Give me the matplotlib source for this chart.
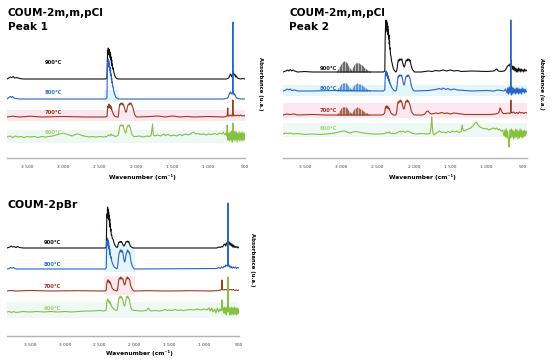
import numpy as np
import matplotlib.pyplot as plt

# ---------------- data ----------------
# each trace: (wavenumber cm-1, absorbance a.u. above its own baseline)

# COUM-2m,m,pCl  Peak 1
p1_900 = [(3775,0),(3750,1),(3730,2),(3710,1.5),(3690,2.5),(3670,1),(3640,1.5),(3600,0.5),(3550,0),(2600,0),
          (2420,0),(2400,1),(2394,20),(2390,28),(2386,24),(2382,31),(2378,26),(2374,30),(2370,25),(2366,29),
          (2362,23),(2358,27),(2354,21),(2350,25),(2346,19),(2342,22),(2338,16),(2334,19),(2330,13),(2326,15),
          (2320,10),(2314,11),(2306,7),(2298,5),(2290,3),(2280,1.5),(2265,0.5),(2240,0),(1500,0),(760,0),
          (740,0.5),(725,1),(712,3),(700,5),(690,4),(680,2),(672,3),(668,4),(667,8),(666,4),(660,6),(650,4),
          (640,5),(630,2),(620,3),(605,1),(590,0.5),(560,0),(530,0.5),(500,0)]
p1_800 = [(3775,0),(3750,1.5),(3730,2.5),(3715,1.5),(3700,2.5),(3680,1),(3650,0.5),(3600,0),(2420,0),(2400,1),
          (2394,28),(2390,36),(2386,32),(2382,40),(2378,34),(2374,38),(2370,32),(2366,35),(2362,29),(2358,32),
          (2354,26),(2350,29),(2346,23),(2342,25),(2338,19),(2334,21),(2330,16),(2326,17),(2320,12),(2314,12),
          (2306,8),(2298,6),(2290,4),(2280,2),(2265,1),(2240,0),(800,0),(760,0.5),(740,1),(725,3),(712,6),
          (700,7),(690,5),(680,6),(672,5),(668,6),(667,77),(666,6),(660,7),(650,4),(640,5),(630,3),(615,1),
          (600,0.5),(550,0),(500,0)]
p1_700 = [(3775,0),(3700,0.8),(3600,0),(3450,0.8),(3300,0),(3000,0.5),(2700,0),(2420,0),(2398,1),(2392,8),
          (2386,11),(2380,9),(2374,13),(2368,10),(2362,12),(2356,9),(2350,11),(2344,8),(2338,10),(2330,6),
          (2322,5),(2312,3),(2300,1.5),(2285,0.5),(2260,0),(2245,0),(2238,4),(2230,10),(2222,13),(2214,12),
          (2206,14),(2198,13),(2190,14),(2182,12),(2174,13),(2166,11),(2158,9),(2150,7),(2142,5),(2134,5),
          (2126,7),(2118,10),(2110,12),(2102,13),(2094,12),(2086,14),(2078,13),(2070,14),(2062,12),(2054,12),
          (2046,10),(2038,8),(2028,5),(2015,2),(2000,0.5),(1985,0),(1800,0.5),(1700,1),(1600,0),(1500,1),
          (1400,0),(1300,0.5),(1200,0),(1000,0.5),(800,0),(760,0.5),(745,1),(738,9),(732,1),(720,1),(700,2),
          (690,1),(680,2),(670,1),(668,2),(667,17),(666,2),(655,1),(640,2),(620,1),(600,2),(580,1),(560,2),
          (540,1),(520,1.5),(500,1)]
p1_600 = [(3775,0),(3740,1),(3700,-0.5),(3660,1),(3620,0),(3580,0.5),(3540,-0.5),(3500,0.5),(3450,0),(3400,0.5),
          (3350,-0.5),(3300,0.5),(3250,0),(3200,0.5),(3150,1),(3100,2),(3050,3),(3000,4),(2960,3),(2920,2),
          (2880,1),(2840,2.5),(2800,3),(2760,2),(2720,1),(2680,0.5),(2640,0),(2600,0.5),(2550,0),(2500,0.5),
          (2450,0),(2400,0.5),(2380,2),(2360,1),(2345,3),(2330,1.5),(2310,2),(2290,0.5),(2260,1),(2245,2),
          (2236,5),(2228,9),(2220,11),(2212,12),(2204,11),(2196,12),(2188,11),(2180,12),(2172,10),(2164,8),
          (2156,6),(2148,4),(2140,4),(2132,6),(2124,9),(2116,11),(2108,12),(2100,11),(2092,12),(2084,10),
          (2076,9),(2068,6),(2058,3),(2045,1.5),(2030,0.5),(2000,0.5),(1950,1),(1900,0),(1850,1),(1810,0.5),
          (1790,2),(1778,9),(1772,13),(1766,6),(1758,2),(1740,1),(1700,2),(1660,1),(1620,3),(1600,1.5),
          (1560,2.5),(1520,1),(1480,2),(1440,1),(1400,2.5),(1360,1.5),(1320,3),(1280,2),(1240,3.5),(1210,5),
          (1180,3),(1150,3.5),(1110,2.5),(1070,3),(1030,2),(1000,3),(960,2.5),(920,3.5),(880,2.5),(850,4),
          (820,3),(800,5),(780,2),(760,4),(750,1),(745,12),(740,0),(735,-3),(725,4),(715,-4),(705,5),(695,-3),
          (685,6),(675,-5),(668,4),(667,14),(666,-2),(660,5),(650,-4),(640,6),(630,-3),(620,5),(610,-5),
          (600,4),(590,-3),(580,5),(570,-4),(560,4),(550,-3),(540,5),(530,-4),(520,4),(510,-3),(500,3)]

# COUM-2m,m,pCl  Peak 2
p2_900 = [(3800,0),(3760,1),(3740,2),(3720,1),(3700,2.5),(3680,1),(3660,2),(3640,1),(3600,0),(3500,0.5),
          (3400,0),(3100,0),(2420,0),(2400,1),(2395,34),(2391,44),(2387,40),(2383,52),(2379,44),(2375,51),
          (2371,42),(2367,49),(2363,40),(2359,46),(2355,37),(2351,42),(2347,33),(2343,37),(2339,28),(2335,31),
          (2331,23),(2327,24),(2321,17),(2315,16),(2308,11),(2300,9),(2292,6),(2284,4),(2274,2),(2262,1),
          (2250,0),(2238,1),(2230,4),(2222,9),(2214,12),(2206,11),(2198,13),(2190,12),(2182,13),(2174,12),
          (2166,13),(2158,10),(2150,8),(2142,6),(2134,5),(2126,6),(2118,9),(2110,11),(2102,12),(2094,11),
          (2086,13),(2078,12),(2070,13),(2062,11),(2054,12),(2046,9),(2036,6),(2024,3),(2010,1.5),(1990,0),
          (1900,0),(1800,1),(1750,0.5),(1700,1.5),(1650,1),(1600,2),(1550,1),(1500,2),(1450,1),(1400,1.5),
          (1350,0.5),(1200,1),(1000,0.5),(900,1),(860,3),(840,1),(800,0.5),(760,1),(740,2),(720,5),(700,7),
          (690,6),(680,8),(672,6),(668,7),(667,12),(666,6),(655,5),(645,3),(640,6),(630,2),(620,5),(610,1),
          (600,4),(590,0),(580,3),(570,0),(560,4),(550,1),(540,3),(530,0),(520,3),(510,1),(500,2),(490,0),
          (480,3),(470,1),(460,2),(445,1)]
p2_800 = [(3800,0),(3760,1),(3740,2),(3720,1),(3700,2),(3680,0.5),(3640,1),(3600,0),(3400,0),(3100,0.5),
          (2420,0),(2400,1),(2395,14),(2391,18),(2387,15),(2383,20),(2379,16),(2375,19),(2371,15),(2367,18),
          (2363,14),(2359,16),(2355,12),(2351,14),(2347,10),(2343,12),(2337,8),(2331,9),(2324,6),(2316,6),
          (2308,4),(2296,2.5),(2284,1.5),(2270,0.5),(2250,0),(2240,1),(2232,5),(2224,11),(2216,15),(2208,14),
          (2200,16),(2192,15),(2184,16),(2176,15),(2168,16),(2160,13),(2152,10),(2144,7),(2136,6),(2128,7),
          (2120,11),(2112,14),(2104,15),(2096,14),(2088,16),(2080,15),(2072,16),(2064,14),(2056,13),(2048,10),
          (2038,6),(2026,3),(2012,1),(1990,0),(1800,0.5),(1700,1.5),(1650,2.5),(1620,1.5),(1600,3),(1560,1.5),
          (1530,2.5),(1500,1),(1450,2),(1400,1),(1300,0.5),(1200,0),(1000,0.5),(900,0),(850,1),(800,0.5),
          (760,0),(740,2),(720,-2),(710,3),(700,-3),(690,4),(680,-2),(672,3),(668,1),(667,71),(666,2),(660,-4),
          (650,4),(640,-3),(630,3),(620,-2),(610,2),(600,-3),(590,3),(580,-2),(570,3),(560,-3),(550,2),(540,-2),
          (530,2),(520,-3),(510,3),(500,-1),(490,2),(480,-2),(470,2),(460,-1),(445,0)]
p2_700 = [(3800,0),(3750,1),(3700,0.5),(3650,1),(3600,0),(3400,0.5),(3200,0),(2450,0),(2420,0.5),(2402,2),
          (2396,6),(2390,8),(2384,7),(2378,9),(2372,7),(2366,9),(2360,7),(2354,8),(2348,6),(2342,7),(2334,5),
          (2326,4),(2316,2),(2300,1),(2280,0),(2250,0),(2242,1),(2234,5),(2226,10),(2218,13),(2210,12),
          (2202,14),(2194,13),(2186,15),(2178,13),(2170,14),(2162,12),(2154,9),(2146,7),(2138,6),(2130,7),
          (2122,10),(2114,13),(2106,14),(2098,13),(2090,15),(2082,13),(2074,14),(2066,12),(2058,11),(2048,8),
          (2036,4),(2022,2),(2005,0.5),(1990,0),(1880,0),(1850,1),(1825,3.5),(1805,4),(1785,2),(1760,1),
          (1720,1.5),(1700,2),(1660,1.5),(1620,2.5),(1580,1.5),(1540,2),(1500,1),(1450,2),(1400,1.5),(1350,1),
          (1300,0.5),(1100,0.5),(950,0.5),(880,1),(850,1.5),(830,3),(815,7),(805,6),(790,3),(770,1.5),
          (740,1.5),(700,2),(680,1.5),(668,2.5),(667,15),(666,2.5),(650,2),(630,3),(610,1.5),(590,2.5),
          (570,1.5),(550,3),(530,2),(510,2.5),(490,1.5),(470,2.5),(445,2)]
p2_600 = [(3800,0),(3770,1),(3740,0.5),(3700,1),(3660,0),(3600,0.5),(3500,-0.5),(3400,0),(3300,-0.5),(3200,0),
          (3120,0.5),(3060,1.5),(3000,2.5),(2960,3),(2920,2),(2880,1),(2840,2),(2800,2.5),(2760,2),(2700,1),
          (2640,0.5),(2560,0),(2450,0),(2400,0.5),(2380,1.5),(2360,1),(2340,2),(2320,0.5),(2260,0.5),(2220,1.5),
          (2190,3),(2170,2),(2150,3),(2120,1.5),(2090,3),(2060,2),(2030,1),(1980,0),(1900,0.5),(1820,0),
          (1780,0.5),(1765,6),(1755,17),(1748,9),(1740,2),(1725,-1),(1710,0),(1680,1.5),(1650,3),(1620,1.5),
          (1590,2),(1560,1),(1530,2.5),(1500,1.5),(1470,3),(1440,2),(1410,3),(1380,1.5),(1350,2.5),(1335,9),
          (1325,4),(1310,3),(1280,4),(1250,5),(1220,6),(1190,8),(1160,11),(1140,12),(1120,9),(1090,7),(1060,6),
          (1030,5),(1000,5.5),(970,4),(940,5),(910,6),(880,5),(860,6),(840,4),(820,5),(800,3),(780,4),(760,-2),
          (750,4),(740,-3),(730,5),(720,-4),(710,3),(700,-8),(693,-13),(686,-5),(680,4),(670,-4),(667,3),
          (660,5),(650,-3),(640,4),(630,-5),(620,3),(610,-4),(600,5),(590,-3),(580,4),(570,-5),(560,3),
          (550,-4),(540,5),(530,-3),(520,4),(510,-4),(500,3),(490,-3),(480,4),(470,-2),(460,3),(445,0)]

# rotational lines (HCl) in Peak 2
p2_hcl_wn = [3060, 3040, 3020, 3000, 2980, 2960, 2940, 2920, 2900, 2880, 2860, 2840,
             2820, 2800, 2780, 2760, 2740, 2720, 2700, 2680, 2660, 2640, 2620, 2600]
p2_900_hcl = [1.5, 3.5, 6, 8.5, 10.5, 11, 10.5, 9, 6.5, 4, 2.5, 5, 7.5, 9, 9.5, 9, 8, 7, 6, 4.5, 3.5, 2.5, 1.5, 1]
p2_800_hcl = [1, 3, 5, 7, 8, 8.5, 8, 7, 5, 3, 2, 4, 6, 7.5, 8, 7.5, 7, 6, 5, 4, 3, 2, 1.5, 1]
p2_700_hcl = [1, 2.5, 5, 7, 8, 8.5, 8, 7, 5, 3, 2, 4, 6, 7.5, 8, 7.5, 6.5, 5.5, 4.5, 3.5, 2.5, 2, 1, 0.5]

# COUM-2pBr
p3_900 = [(3830,0),(3790,1),(3770,2),(3750,1),(3730,1.5),(3700,0.5),(3680,1.5),(3650,0.5),(3600,0),(2600,0),
          (2420,0),(2405,1),(2399,26),(2395,34),(2391,30),(2387,41),(2383,34),(2379,39),(2375,31),(2371,36),
          (2367,28),(2363,33),(2359,25),(2355,29),(2351,21),(2347,24),(2343,17),(2339,19),(2333,13),(2327,13),
          (2320,10),(2312,9),(2304,8),(2294,5),(2282,3),(2268,1.5),(2252,0.5),(2244,1),(2236,3),(2228,5),
          (2220,6),(2212,5.5),(2204,6.5),(2196,6),(2188,6.5),(2180,5.5),(2170,4),(2160,2.5),(2150,2),(2140,3),
          (2130,5),(2122,6),(2114,6.5),(2106,6),(2098,7),(2090,6),(2082,6.5),(2072,4),(2060,2),(2045,1),
          (2020,0),(820,0),(790,1),(770,0.5),(750,1.5),(735,1),(720,3),(705,4),(690,2),(680,5),(670,4),(665,6),
          (659,9),(652,5),(640,6),(630,3),(620,5),(610,2),(600,4),(590,1),(580,3),(570,0.5),(560,2),(545,0.5),
          (530,1.5),(515,0),(500,1)]
p3_800 = [(3830,0),(3800,0.5),(3780,1.5),(3760,1),(3740,1.5),(3720,0.5),(3680,0),(2420,0),(2405,1),(2399,22),
          (2395,28),(2391,24),(2387,31),(2383,26),(2379,29),(2375,23),(2371,26),(2367,20),(2363,23),(2359,17),
          (2355,20),(2351,14),(2347,16),(2341,11),(2335,12),(2327,8),(2318,6),(2306,4),(2292,2),(2275,1),
          (2258,0.5),(2250,0.5),(2244,2),(2236,6),(2228,12),(2220,16),(2212,17),(2204,19),(2196,17),(2188,19),
          (2180,17),(2172,18),(2164,15),(2156,11),(2148,8),(2140,7),(2132,9),(2124,13),(2116,16),(2108,17),
          (2100,19),(2092,17),(2084,18),(2076,16),(2068,16),(2058,11),(2046,6),(2032,3),(2015,1),(2000,0),
          (820,0.5),(790,1.5),(770,0.5),(750,2),(730,1),(715,3),(700,2),(690,4),(680,3),(670,4),(662,3),
          (659,66),(656,3),(645,4),(635,2),(625,3),(615,1),(605,2.5),(595,1),(580,2),(565,1),(550,2),(535,0.5),
          (520,1.5),(500,1)]
p3_700 = [(3830,0),(3780,0.5),(3700,0),(3500,0.5),(3200,0),(2800,0.3),(2420,0),(2405,1),(2399,7),(2393,9),
          (2387,11),(2381,9),(2375,11),(2369,9),(2363,10),(2357,8),(2351,9),(2345,7),(2339,7),(2331,5),
          (2322,3),(2310,2),(2295,1),(2275,0.5),(2255,0),(2246,1),(2238,4),(2230,9),(2222,12),(2214,13),
          (2206,12),(2198,14),(2190,12),(2182,13),(2174,12),(2166,12),(2158,9),(2150,7),(2142,6),(2134,7),
          (2126,10),(2118,12),(2110,13),(2102,14),(2094,12),(2086,13),(2078,12),(2070,11),(2060,7),(2048,4),
          (2034,2),(2018,0.5),(2000,0),(1800,0.3),(1500,0),(1200,0.3),(900,0),(800,0.5),(760,1),(750,2),
          (745,11),(740,1.5),(720,1),(700,1.5),(680,1),(665,2),(660,1.5),(659,10),(658,1.5),(640,1),(620,1.5),
          (600,1),(580,1.5),(560,0.5),(540,1),(520,0.5),(500,1)]
p3_600 = [(3830,0),(3800,0.5),(3770,-0.5),(3740,0.5),(3700,-0.5),(3650,0),(3600,0.5),(3500,0),(3400,0.5),
          (3300,0),(3200,0.5),(3100,0),(3000,0.5),(2900,0),(2800,0.5),(2700,1),(2600,1),(2500,1.5),(2440,1),
          (2420,1.5),(2405,2),(2399,9),(2393,11),(2387,13),(2381,11),(2375,12),(2369,10),(2363,11),(2357,9),
          (2351,10),(2345,8),(2339,8),(2331,6),(2322,5),(2310,4),(2295,3),(2278,2),(2260,1.5),(2248,2),
          (2240,5),(2232,10),(2224,13),(2216,15),(2208,14),(2200,16),(2192,14),(2184,15),(2176,13),(2168,12),
          (2160,9),(2152,7),(2144,6),(2136,7),(2128,10),(2120,13),(2112,15),(2104,16),(2096,14),(2088,15),
          (2080,13),(2072,12),(2062,8),(2050,4),(2035,2),(2000,1.5),(1900,1),(1830,1.5),(1800,4),(1785,2),
          (1760,1),(1700,1.5),(1650,1),(1600,1.5),(1560,2.5),(1530,1.5),(1500,2),(1460,1.5),(1420,2.5),
          (1380,1.5),(1340,2),(1300,1.5),(1250,2),(1200,2.5),(1150,2),(1100,3),(1050,2),(1000,3),(960,2),
          (930,4),(910,1),(890,4),(870,0),(850,3),(830,-1),(810,4),(790,0),(775,3),(760,1),(750,3),(745,12),
          (740,2),(730,4),(720,-1),(710,5),(700,-2),(690,4),(680,-3),(670,5),(662,1),(659,35),(656,0),(645,5),
          (635,-3),(625,4),(615,-3),(605,5),(595,-2),(585,4),(575,-3),(565,5),(555,-2),(545,4),(535,-3),
          (525,4),(515,-2),(505,3),(500,0)]

temps = ['900°C', '800°C', '700°C', '600°C']
tick_vals = [3500, 3000, 2500, 2000, 1500, 1000, 500]
tick_txt = ['3 500', '3 000', '2 500', '2 000', '1 500', '1 000', '500']

# ---------------- styles ----------------
C_BLK, C_BLU, C_BRN, C_GRN = '#111111', '#2a63c8', '#9c3a1a', '#86c03f'
F_BLU, F_RED, F_GRN = '#3b8ae0', '#e5231b', '#6cb83a'
F_BRN = '#b5452a'
LBL_C = ['#111111', '#2e6fd0', '#a5301c', '#a3d673']
CYAN, PINK, MINT = '#e4f6fb', '#fde7f0', '#eef9f5'

W, H = 550, 364
fig = plt.figure(figsize=(5.5, 3.64), dpi=100)


def px_ax(x0, x1, ytop, ybot):
    return fig.add_axes([x0 / W, 1 - ybot / H, (x1 - x0) / W, (ybot - ytop) / H])


def trace(ax, pts, off, col, fills=(), lw=0.8, z=3):
    wn, ab = np.array(pts, dtype=float).T
    y = ab + off
    for lo, hi, fc in fills:
        m = (wn >= lo) & (wn <= hi)
        ax.fill_between(wn[m], off, y[m], color=fc, lw=0.3, edgecolor=fc, zorder=z)
    ax.plot(wn, y, color=col, lw=lw, zorder=z + 0.1)


def rot_lines(ax, wn, h, off, lc, fc, z=2.5):
    h = np.array(h)
    ax.fill_between(wn, off, off + h, color=fc, lw=0, zorder=z)
    ax.vlines(wn, off, off + h, color=lc, lw=0.5, zorder=z)


def style(ax, xlim, ylim):
    ax.set_xlim(*xlim)
    ax.set_ylim(*ylim)
    for s in ['top', 'left', 'right']:
        ax.spines[s].set_visible(False)
    ax.spines['bottom'].set_color('#b3b3b3')
    ax.spines['bottom'].set_linewidth(1.0)
    ax.set_yticks([])
    ax.set_xticks(tick_vals)
    ax.set_xticklabels(tick_txt, fontsize=3.2, color='#404040')
    ax.tick_params(axis='x', length=0, pad=5)
    ax.patch.set_alpha(0)


def band(ax, lo, hi, y0, y1, c):
    ax.fill_between([lo, hi], y0, y1, color=c, lw=0, zorder=0.5)


def labels(ax, x, offs, dys):
    for t, c, o, d in zip(temps, LBL_C, offs, dys):
        ax.text(x, o + d, t, ha='center', va='center', fontsize=3.8, fontweight='bold', color=c, zorder=6)


# ---------------- panel 1 ----------------
ax1 = px_ax(7, 245, 18, 158)
style(ax1, (3775, 500), (0, 140))
o1 = [79, 59, 41, 21]
band(ax1, 2440, 2240, 56, 68, CYAN)
band(ax1, 3775, 500, 37, 48, PINK)
band(ax1, 3775, 500, 15, 28, MINT)
trace(ax1, p1_900, o1[0], C_BLK, [(2400, 2260, C_BLK)], z=3)
trace(ax1, p1_800, o1[1], C_BLU, [(2400, 2250, F_BLU)], z=4)
trace(ax1, p1_700, o1[2], C_BRN, [(2245, 1985, F_RED), (2398, 2285, F_BRN)], z=5)
trace(ax1, p1_600, o1[3], C_GRN, [(2245, 2030, F_GRN), (3120, 2660, '#cfe8b3')], z=5.5)
labels(ax1, 3141, o1, [16, 6, 4, 4])

# ---------------- panel 2 ----------------
ax2 = px_ax(283, 527, 18, 158)
style(ax2, (3800, 445), (0, 140))
o2 = [86, 67, 43, 24]
band(ax2, 3800, 445, 62, 73, CYAN)
band(ax2, 3800, 445, 40, 55, PINK)
band(ax2, 3800, 445, 21, 35, MINT)
rot_lines(ax2, p2_hcl_wn, p2_900_hcl, o2[0], '#4a4a4a', '#b8b8b8')
rot_lines(ax2, p2_hcl_wn, p2_800_hcl, o2[1], '#3f7fd4', '#a6cdf2')
rot_lines(ax2, p2_hcl_wn, p2_700_hcl, o2[2], '#8a4a33', '#d7b0a0')
trace(ax2, p2_900, o2[0], C_BLK, [(2400, 2250, C_BLK), (2238, 1990, C_BLK)], z=3)
trace(ax2, p2_800, o2[1], C_BLU, [(2400, 2250, F_BLU), (2240, 1990, F_BLU)], z=4)
trace(ax2, p2_700, o2[2], C_BRN, [(2242, 1990, F_RED), (2420, 2280, F_BRN)], z=5)
trace(ax2, p2_600, o2[3], C_GRN, [(3120, 2640, '#d6ecbf')], z=5.5)
labels(ax2, 3182, o2, [4, 2, 5, 6])

# ---------------- panel 3 ----------------
ax3 = px_ax(7, 239, 198, 336)
style(ax3, (3830, 500), (0, 138))
o3 = [88, 67, 45, 24]
band(ax3, 2440, 1990, 64, 92, CYAN)
band(ax3, 2440, 1990, 41, 60, PINK)
band(ax3, 3830, 500, 18, 34, MINT)
trace(ax3, p3_900, o3[0], C_BLK, [(2405, 2252, C_BLK), (2244, 2020, C_BLK)], z=3)
trace(ax3, p3_800, o3[1], C_BLU, [(2405, 2250, F_BLU), (2250, 2000, F_BLU)], z=4)
trace(ax3, p3_700, o3[2], C_BRN, [(2246, 2000, F_RED), (2405, 2275, F_BRN)], z=5)
trace(ax3, p3_600, o3[3], C_GRN, [(2248, 2035, F_GRN), (2405, 2260, '#9fd06e')], z=5.5)
labels(ax3, 3184, o3, [6, 4, 5, 4])

# ---------------- titles / axis texts ----------------
def ftext(x, y, s, **kw):
    fig.text(x / W, 1 - y / H, s, **kw)


ftext(8, 13, 'COUM-2m,m,pCl', fontsize=7.6, fontweight='bold', va='center', ha='left')
ftext(8, 27, 'Peak 1', fontsize=7.6, fontweight='bold', va='center', ha='left')
ftext(289, 13, 'COUM-2m,m,pCl', fontsize=7.6, fontweight='bold', va='center', ha='left')
ftext(289, 27, 'Peak 2', fontsize=7.6, fontweight='bold', va='center', ha='left')
ftext(8, 205, 'COUM-2pBr', fontsize=7.8, fontweight='bold', va='center', ha='left')

for x, y in [(142, 177), (422, 177), (139, 353)]:
    ftext(x, y, 'Wavenumber (cm⁻¹)', fontsize=4.2, fontweight='bold', ha='center', va='center')
ftext(260, 84, 'Absorbance (u.a.)', fontsize=3.8, fontweight='bold', rotation=270, ha='center', va='center')
ftext(542, 83, 'Absorbance (u.a.)', fontsize=3.8, fontweight='bold', style='italic', rotation=270,
      ha='center', va='center')
ftext(253, 260, 'Absorbance (u.a.)', fontsize=3.8, fontweight='bold', rotation=270, ha='center', va='center')

fig.savefig('out.png', dpi=100)
